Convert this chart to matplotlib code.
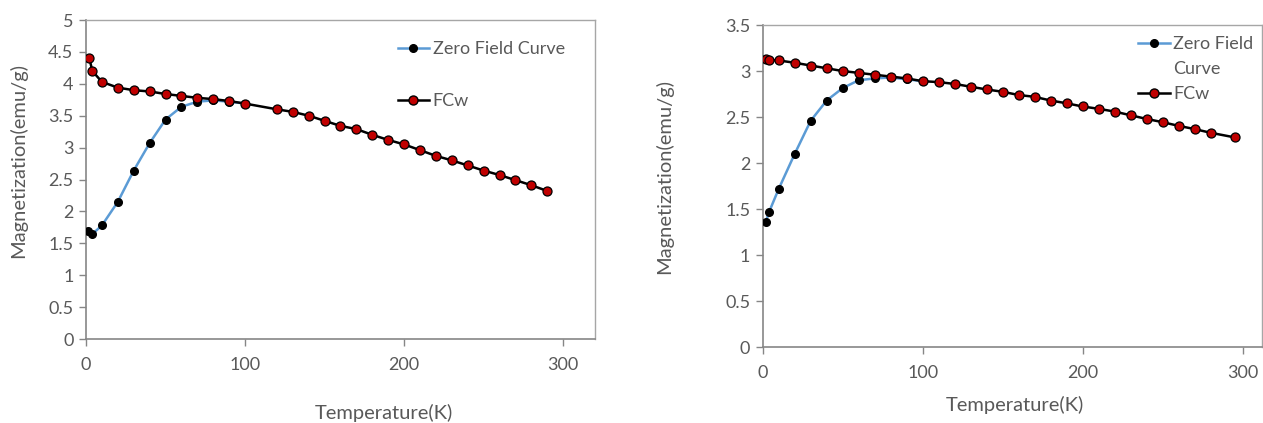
import matplotlib
matplotlib.use("Agg")
import matplotlib.pyplot as plt
from matplotlib.lines import Line2D

plt.rcParams['font.family'] = ['Lato', 'DejaVu Sans']

# ---- Left panel data ----
left_fc_T = [2, 4, 10, 20, 30, 40, 50, 60, 70, 80, 90, 100, 120, 130, 140, 150, 160,
             170, 180, 190, 200, 210, 220, 230, 240, 250, 260, 270, 280, 290]
left_fc_M = [4.41, 4.20, 4.03, 3.94, 3.90, 3.88, 3.84, 3.81, 3.78, 3.76, 3.73, 3.69, 3.60,
             3.56, 3.50, 3.42, 3.34, 3.29, 3.20, 3.12, 3.05, 2.96, 2.87, 2.80, 2.72, 2.64,
             2.57, 2.49, 2.41, 2.32]
left_zfc_T = [1, 4, 10, 20, 30, 40, 50, 60, 70, 80, 90, 100]
left_zfc_M = [1.70, 1.645, 1.78, 2.15, 2.64, 3.07, 3.44, 3.64, 3.72, 3.74, 3.72, 3.69]

# ---- Right panel data ----
right_fc_T = [2, 4, 10, 20, 30, 40, 50, 60, 70, 80, 90, 100, 110, 120, 130, 140, 150,
              160, 170, 180, 190, 200, 210, 220, 230, 240, 250, 260, 270, 280, 295]
right_fc_M = [3.13, 3.12, 3.115, 3.09, 3.06, 3.03, 3.00, 2.98, 2.96, 2.94, 2.92, 2.89,
              2.88, 2.86, 2.83, 2.80, 2.775, 2.74, 2.72, 2.68, 2.65, 2.615, 2.59, 2.56,
              2.52, 2.48, 2.445, 2.405, 2.37, 2.33, 2.28]
right_zfc_T = [2, 4, 10, 20, 30, 40, 50, 60, 70, 80, 90, 100]
right_zfc_M = [1.365, 1.47, 1.72, 2.10, 2.46, 2.68, 2.815, 2.90, 2.92, 2.93, 2.91, 2.89]

left_yticks = [0, 0.5, 1, 1.5, 2, 2.5, 3, 3.5, 4, 4.5, 5]
left_yticklabels = ['0', '0.5', '1', '1.5', '2', '2.5', '3', '3.5', '4', '4.5', '5']
right_yticks = [0, 0.5, 1, 1.5, 2, 2.5, 3, 3.5]
right_yticklabels = ['0', '0.5', '1', '1.5', '2', '2.5', '3', '3.5']
xticks = [0, 100, 200, 300]

TXT = '#595959'
AX = '#868686'
FRAME = '#a6a6a6'
BLUE = '#5b9bd5'
RED = '#c00000'

fig = plt.figure(figsize=(12.63, 4.23), dpi=100)
axL = fig.add_axes([86/1263, (423-339)/423, 509/1263, 319/423])
axR = fig.add_axes([762.7/1263, (423-347.3)/423, 499/1263, 322.3/423])


def style(ax, xlim, ylim, yticks, ylabels):
    ax.set_xlim(*xlim)
    ax.set_ylim(*ylim)
    ax.set_xticks(xticks)
    ax.set_xticklabels([str(t) for t in xticks])
    ax.set_yticks(yticks)
    ax.set_yticklabels(ylabels)
    for s in ['top', 'right']:
        ax.spines[s].set_color(FRAME)
        ax.spines[s].set_linewidth(1.0)
    for s in ['left', 'bottom']:
        ax.spines[s].set_color(AX)
        ax.spines[s].set_linewidth(1.2)
    ax.tick_params(direction='out', length=5, width=1, color=AX,
                   labelcolor=TXT, labelsize=13)
    ax.tick_params(axis='x', pad=8)
    ax.tick_params(axis='y', pad=4)


for ax, zT, zM, fT, fM in [(axL, left_zfc_T, left_zfc_M, left_fc_T, left_fc_M),
                           (axR, right_zfc_T, right_zfc_M, right_fc_T, right_fc_M)]:
    ax.plot(zT, zM, color=BLUE, lw=1.8, marker='o', ms=5.5, mfc='black', mec='black',
            label='Zero Field Curve', zorder=3)
    ax.plot(fT, fM, color='black', lw=1.8, marker='o', ms=6.5, mfc=RED, mec='black',
            mew=0.9, label='FCw', zorder=4)

style(axL, (0, 320), (0, 5), left_yticks, left_yticklabels)
style(axR, (0, 312), (0, 3.5), right_yticks, right_yticklabels)

axL.set_xlabel('Temperature(K)', fontsize=14.5, color=TXT)
axL.set_ylabel('Magnetization(emu/g)', fontsize=14.5, color=TXT)
axL.xaxis.set_label_coords(0.585, -0.205)
axL.yaxis.set_label_coords(-0.115, 0.56)

axR.set_xlabel('Temperature(K)', fontsize=14.5, color=TXT)
axR.set_ylabel('Magnetization(emu/g)', fontsize=14.5, color=TXT)
axR.xaxis.set_label_coords(0.506, -0.15)
axR.yaxis.set_label_coords(-0.18, 0.53)

# legends
hz = Line2D([], [], color=BLUE, lw=1.8, marker='o', ms=5.5, mfc='black', mec='black')
hf = Line2D([], [], color='black', lw=1.8, marker='o', ms=6.5, mfc=RED, mec='black')
hb = Line2D([], [], linestyle='none')

legL = axL.legend([hz, hf], ['Zero Field Curve', 'FCw'], loc='upper left',
                  bbox_to_anchor=(0.612, 0.933), frameon=False, fontsize=13,
                  labelcolor=TXT, handlelength=1.75, handletextpad=0.2,
                  labelspacing=2.0, borderpad=0, borderaxespad=0)

legR = axR.legend([hz, hb, hf], ['Zero Field', 'Curve', 'FCw'], loc='upper left',
                  bbox_to_anchor=(0.752, 0.965), frameon=False, fontsize=13,
                  labelcolor=TXT, handlelength=1.75, handletextpad=0.2,
                  labelspacing=0.5, borderpad=0, borderaxespad=0)

fig.savefig('out.png', dpi=100)
